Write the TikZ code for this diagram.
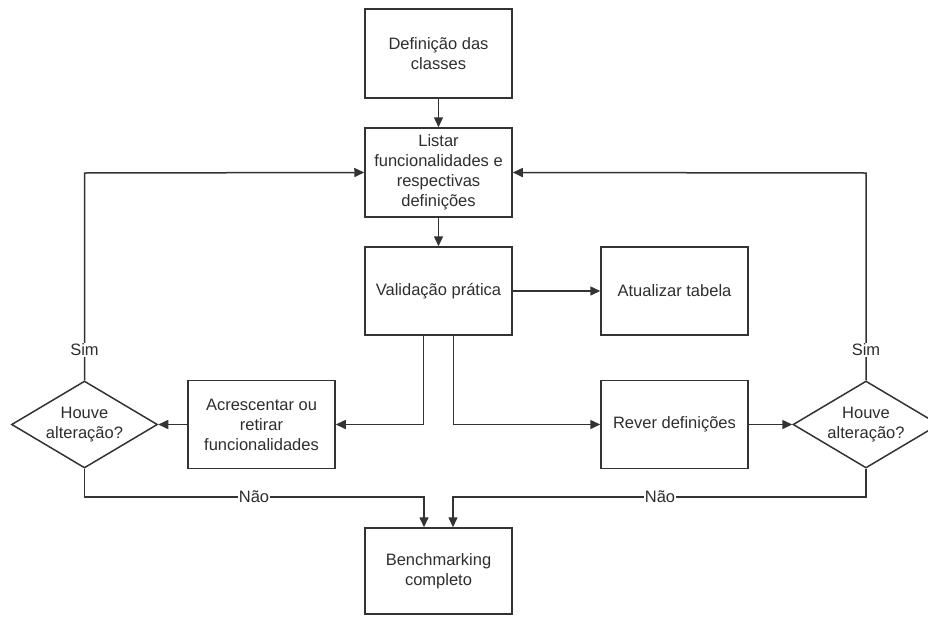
\documentclass[tikz,border=0pt]{standalone}
\usepackage{fontspec}
\setmainfont{Liberation Sans}
\usetikzlibrary{arrows.meta,shapes.geometric}
\begin{document}
\begin{tikzpicture}[x=1pt,y=-1pt,
  every node/.style={font=\fontsize{16.5}{20}\selectfont, text=black!82},
  box/.style={draw=black!80, line width=1.5pt, minimum width=147pt, inner sep=2pt, align=center},
  dia/.style={draw=black!80, line width=1.5pt, diamond, aspect=1.68, inner sep=0pt, minimum width=146pt, minimum height=87pt, align=center},
  arr/.style={draw=black!80, line width=1.5pt, -{Triangle[length=10pt,width=9pt]}},
  ln/.style={draw=black!80, line width=1.5pt},
  lbl/.style={fill=white, inner sep=1pt}
]
\useasboundingbox (0,0) rectangle (928,616);
\node[box, minimum height=89pt] (def) at (438.5,53.5) {Definição das\\classes};
\node[box, minimum height=89pt] (listar) at (438.5,172.5) {Listar\\funcionalidades e\\respectivas\\definições};
\node[box, minimum height=88pt] (valid) at (438.5,291) {Validação prática};
\node[box, minimum height=88pt] (atual) at (674.5,291) {Atualizar tabela};
\node[box, minimum height=88pt] (acres) at (261.5,424.5) {Acrescentar ou\\retirar\\funcionalidades};
\node[box, minimum height=88pt] (rever) at (674.5,424.5) {Rever definições};
\node[dia] (dL) at (84.5,424.5) {Houve\\alteração?};
\node[dia] (dR) at (866,424.5) {Houve\\alteração?};
\node[box, minimum height=86pt] (bench) at (438.5,571) {Benchmarking\\completo};

\coordinate (vl) at (423.5,335);
\coordinate (vr) at (453.5,335);
\coordinate (jL) at (424,497);
\coordinate (jR) at (453,497);
\coordinate (tL) at (84.5,173);
\coordinate (tR) at (866,173);

\draw[arr] (def) -- (listar);
\draw[arr] (listar) -- (valid);
\draw[arr] (valid) -- (atual);
\draw[arr] (vl) |- (acres.east);
\draw[arr] (vr) |- (rever.west);
\draw[arr] (acres) -- (dL);
\draw[arr] (rever) -- (dR);
\draw[arr] (dL.north) -- (tL) -- (listar.west);
\draw[arr] (dR.north) -- (tR) -- (listar.east);
\draw[arr] (dL.south) |- (jL) -- (jL |- bench.north);
\draw[arr] (dR.south) |- (jR) -- (jR |- bench.north);

\node[lbl] (simL) at (84.5,350) {Sim};
\node[lbl] (simR) at (866,350) {Sim};
\node[lbl] (naoL) at (254,497) {Não};
\node[lbl] (naoR) at (660,497) {Não};
\end{tikzpicture}
\end{document}
